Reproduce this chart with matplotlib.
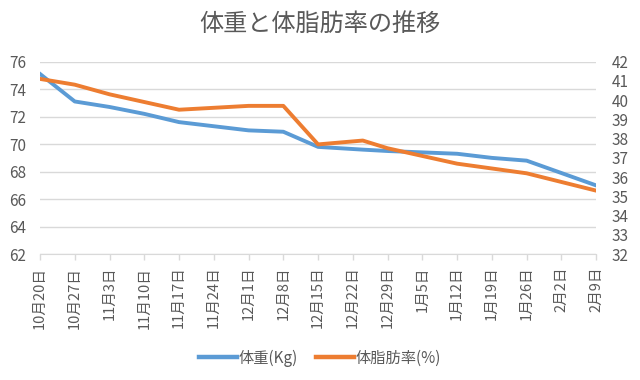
import datetime as dt
import matplotlib
matplotlib.use('Agg')
from matplotlib import pyplot as plt
from matplotlib.lines import Line2D

plt.rcParams['font.family'] = ['Noto Sans CJK JP', 'DejaVu Sans']

# data (dates are month/day, season 2013-2014)
dates = ['2013-10-20', '2013-10-27', '2013-11-03', '2013-11-10', '2013-11-17',
         '2013-11-24', '2013-12-01', '2013-12-08', '2013-12-15', '2013-12-24',
         '2013-12-29', '2014-01-05', '2014-01-12', '2014-01-19', '2014-01-26',
         '2014-02-02', '2014-02-09']
weight = [75.1, 73.1, 72.7, 72.2, 71.6, 71.3, 71.0, 70.9, 69.8, 69.6,
          69.5, 69.4, 69.3, 69.0, 68.8, 67.9, 67.0]
fat = [41.1, 40.8, 40.3, 39.9, 39.5, 39.6, 39.7, 39.7, 37.7, 37.9,
       37.5, 37.1, 36.7, 36.45, 36.2, 35.75, 35.3]

tick_start = dt.date(2013, 10, 20)
n_ticks = 17

blue = '#5B9BD5'
orange = '#ED7D31'
txt = '#595959'
grid = '#D9D9D9'

x = [dt.datetime.strptime(d, '%Y-%m-%d').date() for d in dates]
ticks = [tick_start + dt.timedelta(days=7 * i) for i in range(n_ticks)]
tick_labels = [f'{d.month}月{d.day}日' for d in ticks]

fig = plt.figure(figsize=(6.4, 3.8), dpi=100)
ax = fig.add_axes([0.0625, 0.331, 0.869, 0.507])
ax2 = ax.twinx()

ax.plot(x, weight, color=blue, lw=2.8, solid_joinstyle='round')
ax2.plot(x, fat, color=orange, lw=2.8, solid_joinstyle='round')

ax.set_ylim(62, 76)
ax.set_yticks(range(62, 77, 2))
ax2.set_ylim(32, 42)
ax2.set_yticks(range(32, 43, 1))
ax.set_xlim(ticks[0], ticks[-1])
ax.set_xticks(ticks)
ax.set_xticklabels(tick_labels, rotation=90, fontsize=10.5, color=txt)

ax.grid(axis='y', color=grid, lw=1)
ax.set_axisbelow(True)
for a in (ax, ax2):
    for s in a.spines.values():
        s.set_visible(False)
ax.spines['bottom'].set_visible(True)
ax.spines['bottom'].set_color(grid)
ax.tick_params(axis='x', colors=grid, length=4, width=1, labelcolor=txt, pad=5)
ax.tick_params(axis='y', length=0, labelsize=11, labelcolor=txt, pad=10)
ax2.tick_params(axis='y', length=0, labelsize=11, labelcolor=txt, pad=11)

fig.suptitle('体重と体脂肪率の推移', y=0.972, fontsize=17.4, color=txt)

handles = [Line2D([], [], color=blue, lw=3.2),
           Line2D([], [], color=orange, lw=3.2)]
fig.legend(handles, ['体重(Kg)', '体脂肪率(%)'], loc='center',
           bbox_to_anchor=(0.5, 0.058), ncol=2, frameon=False, fontsize=11,
           labelcolor=txt, handlelength=2.5, handletextpad=0.1, columnspacing=1.2)

fig.savefig('out.png', dpi=100)
